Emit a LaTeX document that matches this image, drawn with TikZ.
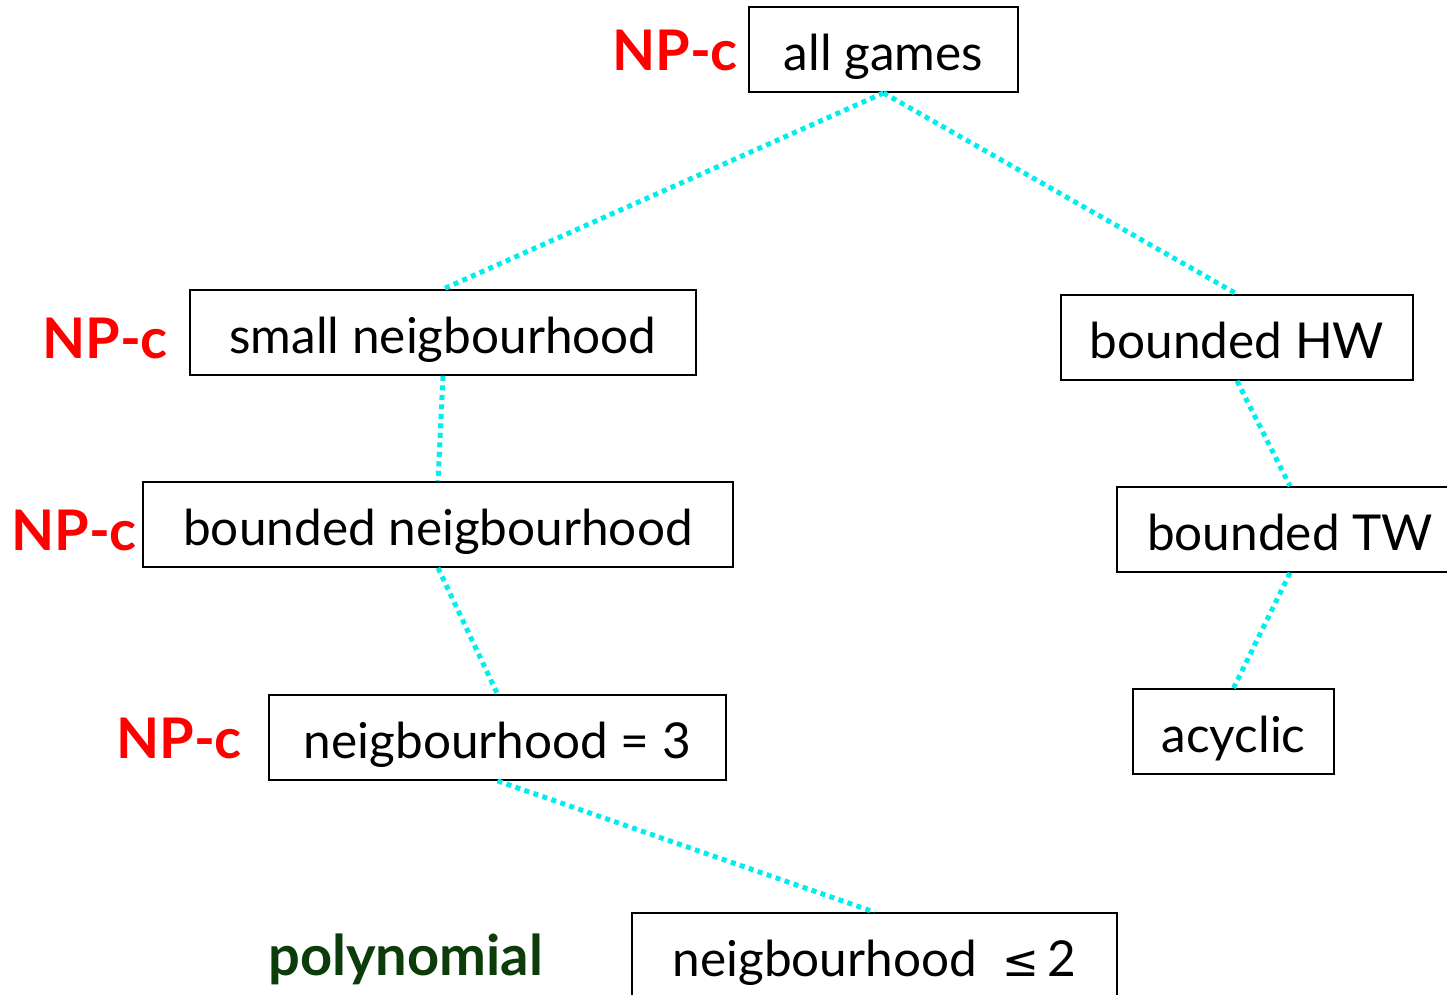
\documentclass[tikz,border=0pt]{standalone}
\usepackage{fontspec}
\setmainfont{Lato}
\newfontfamily\symfont{DejaVu Sans}
\definecolor{linkcyan}{RGB}{0,238,238}
\definecolor{hardred}{RGB}{255,0,0}
\definecolor{polygreen}{RGB}{12,60,10}
\begin{document}
\begin{tikzpicture}[x=1pt,y=-1pt,
  cls/.style={draw=black, line width=1.8pt, inner sep=0pt, minimum height=85pt,
    font=\fontsize{49.5}{58}\selectfont, text height=41pt, text depth=0pt},
  hard/.style={text=hardred, inner sep=0pt, anchor=east,
    font=\fontsize{56}{66}\selectfont\bfseries},
  link/.style={linkcyan, line width=5pt, dash pattern=on 5pt off 4.5pt}]
\useasboundingbox (0,0) rectangle (1447,994);
\clip (0,0) rectangle (1447,994);

% problem classes
\node[cls, minimum width=269pt] (all)    at (883.5,49.5)  {all games};
\node[cls, minimum width=506pt] (small)  at (443,332.5)   {small neigbourhood};
\node[cls, minimum width=352pt] (hw)     at (1237,337.5)  {bounded HW};
\node[cls, minimum width=590pt] (bneigh) at (438,524.5)   {bounded neigbourhood};
\node[cls, minimum width=346pt] (tw)     at (1290,529.5)  {bounded TW};
\node[cls, minimum width=457pt] (three)  at (497.5,737.5) {neigbourhood = 3};
\node[cls, minimum width=201pt] (acyc)   at (1233.5,731.5){acyclic};
\node[cls, minimum width=485pt] (two)    at (874.5,955.5) {neigbourhood \ {\symfont\fontsize{44}{50}\selectfont ≤}\,2};

% complexity labels
\node[hard] (c1) at (738,50.5)  {NP-c};
\node[hard] (c2) at (168,338)   {NP-c};
\node[hard] (c3) at (137,530)   {NP-c};
\node[hard] (c4) at (242,738.5) {NP-c};
\node[text=polygreen, inner sep=0pt, anchor=base west,
  font=\fontsize{56}{66}\selectfont\bfseries] (poly) at (268,975) {polynomial};

% inclusion links
\draw[link] (all.south) -- (small.north);
\draw[link] (all.south) -- (hw.north);
\draw[link] (small.south) -- (bneigh.north);
\draw[link] (bneigh.south) -- (three.north);
\draw[link] (three.south) -- (two.north);
\draw[link] (hw.south) -- (tw.north);
\draw[link] (tw.south) -- (acyc.north);
\end{tikzpicture}
\end{document}
